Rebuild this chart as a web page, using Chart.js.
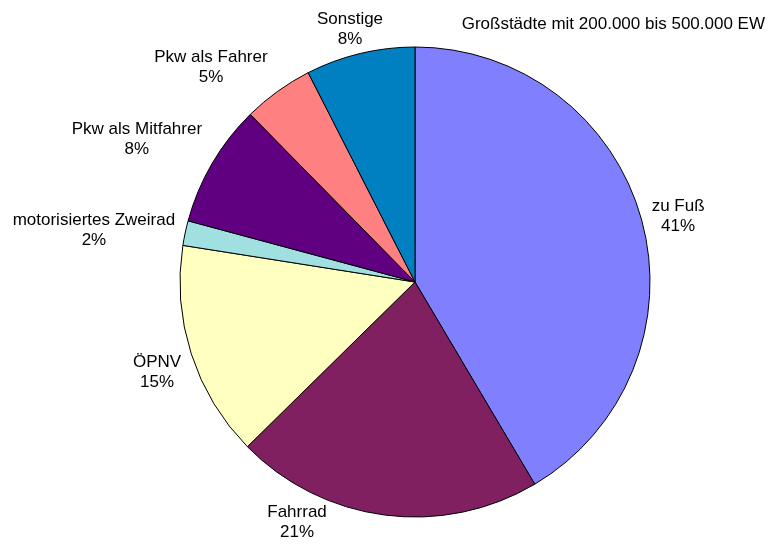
<!DOCTYPE html>
<html>
<head>
<meta charset="utf-8">
<script src="https://cdn.jsdelivr.net/npm/chart.js@4/dist/chart.umd.min.js"></script>
<style>
html,body{margin:0;padding:0;background:#fff;}
#wrap{position:relative;width:773px;height:544px;}
</style>
</head>
<body>
<div id="wrap"><canvas id="c" width="773" height="544"></canvas></div>
<script>
const chartTitle = 'Großstädte mit 200.000 bis 500.000 EW';
const categories = ['zu Fuß', 'Fahrrad', 'ÖPNV', 'motorisiertes Zweirad', 'Pkw als Mitfahrer', 'Pkw als Fahrer', 'Sonstige'];
const shares = [41.49, 21.15, 14.85, 1.7, 8.45, 4.85, 7.51];
const sliceColors = ['#8080FF', '#802060', '#FFFFC0', '#A0E0E0', '#600080', '#FF8080', '#0080C0'];

const FONT = '17px "Liberation Sans", Arial, sans-serif';
const LINE_H = 20;

function placeLabel(p, ang, hw, hh) {
  const dx = Math.cos(ang), dy = Math.sin(ang);
  const ax = p.x + dx * p.outerRadius, ay = p.y + dy * p.outerRadius;
  const TH = 0.28;
  const cx = Math.abs(dx) >= TH ? ax + Math.sign(dx) * (hw + 10) : ax + dx * (hw + 10);
  let cy;
  if (Math.abs(dy) >= TH) cy = dy < 0 ? ay - (hh + 4) : ay + (hh - 1);
  else cy = ay + dy * 12;
  return { cx, cy, dx, dy };
}

const labelPlugin = {
  id: 'outerLabels',
  afterDraw(chart) {
    const ctx = chart.ctx;
    const meta = chart.getDatasetMeta(0);
    const total = shares.reduce((a, b) => a + b, 0);
    const W = chart.width, H = chart.height;
    ctx.save();
    ctx.font = FONT;
    ctx.fillStyle = '#000';
    ctx.textAlign = 'center';
    ctx.textBaseline = 'middle';
    meta.data.forEach((arc, i) => {
      const p = arc.getProps(['x', 'y', 'startAngle', 'endAngle', 'outerRadius'], true);
      let ang = (p.startAngle + p.endAngle) / 2;
      const lines = [categories[i], Math.round(shares[i] / total * 100) + '%'];
      const w = Math.max(...lines.map(t => ctx.measureText(t).width));
      const hw = w / 2, hh = lines.length * LINE_H / 2;
      const margin = 1;
      let pos = placeLabel(p, ang, hw, hh);
      let guard = 0;
      while (guard++ < 180) {
        if (pos.cy + hh > H - margin) {
          const rel = Math.atan2(Math.sin(ang - Math.PI / 2), Math.cos(ang - Math.PI / 2));
          ang += (rel >= 0 ? 1 : -1) * Math.PI / 360;
        } else if (pos.cy - hh < margin) {
          const rel = Math.atan2(Math.sin(ang + Math.PI / 2), Math.cos(ang + Math.PI / 2));
          ang += (rel >= 0 ? 1 : -1) * Math.PI / 360;
        } else break;
        pos = placeLabel(p, ang, hw, hh);
      }
      const cx = Math.min(Math.max(pos.cx, margin + hw), W - margin - hw);
      lines.forEach((t, k) => {
        ctx.fillText(t, cx, pos.cy - hh + LINE_H * (k + 0.5));
      });
    });
    ctx.textAlign = 'right';
    ctx.fillText(chartTitle, W - 8, 24);
    ctx.restore();
  }
};

new Chart(document.getElementById('c'), {
  type: 'pie',
  data: {
    labels: categories,
    datasets: [{
      data: shares,
      backgroundColor: sliceColors,
      borderColor: '#000',
      borderWidth: 1
    }]
  },
  options: {
    responsive: false,
    animation: false,
    radius: 235,
    layout: { padding: { left: 180, right: 123, top: 47, bottom: 27 } },
    plugins: {
      legend: { display: false },
      tooltip: { enabled: false },
      title: { display: false }
    }
  },
  plugins: [labelPlugin]
});
</script>
</body>
</html>
